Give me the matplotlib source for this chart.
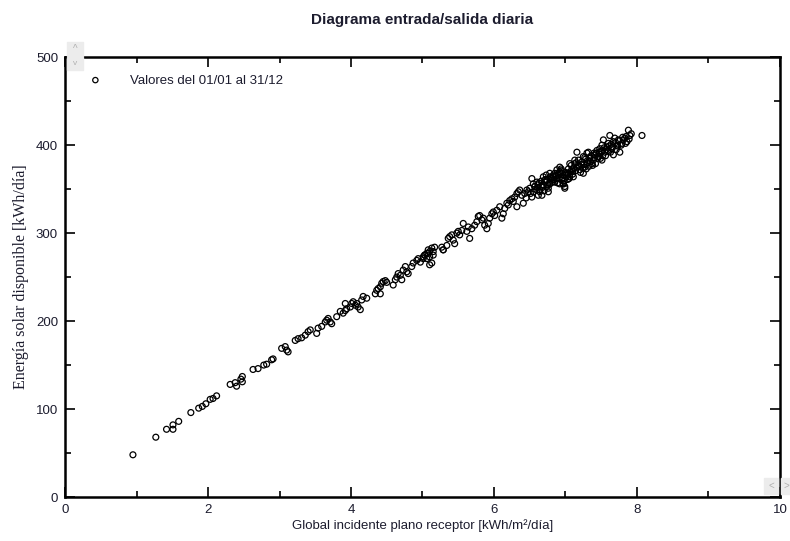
import numpy as np
import matplotlib.pyplot as plt
from matplotlib.patches import Rectangle

plt.rcParams['font.family'] = ['Liberation Sans', 'DejaVu Sans']

# daily points: global incident irradiation vs available solar energy
gi_low = [0.95, 1.27, 1.42, 1.51, 1.51, 1.59, 1.76, 1.87, 1.92, 1.97, 2.03, 2.07, 2.12,
          2.31, 2.38, 2.40, 2.46, 2.48, 2.48, 2.63, 2.70, 2.78, 2.82, 2.89, 2.91,
          3.03, 3.08, 3.10, 3.12, 3.22, 3.26, 3.31, 3.36, 3.40, 3.43, 3.52, 3.54,
          3.59, 3.64, 3.66, 3.68, 3.71, 3.73, 3.80, 3.85, 3.89, 3.92, 3.94, 3.99,
          4.01, 4.03, 4.06, 4.08, 4.10, 4.13, 4.15, 4.17, 4.22, 3.92, 4.34, 4.36,
          4.38, 4.41, 4.43, 4.45, 4.48, 4.50, 4.41, 4.59, 4.62, 4.64, 4.66, 4.69,
          4.71, 4.73, 4.76, 4.78, 4.80, 4.85, 4.87, 4.92, 4.94, 4.97, 5.01, 5.03,
          5.06, 5.08, 5.10, 5.13, 5.15, 5.29]
en_low = [48, 68, 77, 77, 82, 86, 96, 101, 103, 106, 111, 112, 115,
          128, 130, 126, 134, 131, 137, 145, 146, 150, 151, 156, 157,
          169, 171, 167, 165, 178, 180, 181, 184, 188, 190, 186, 192,
          194, 199, 201, 203, 199, 197, 205, 211, 209, 212, 214, 216,
          220, 222, 218, 220, 216, 213, 224, 228, 226, 220, 231, 235,
          237, 239, 243, 245, 246, 244, 231, 241, 247, 250, 254, 252,
          247, 258, 262, 256, 254, 262, 266, 269, 271, 267, 273, 275,
          271, 277, 279, 266, 275, 281]

gi_mid = [5.01, 5.03, 5.06, 5.08, 5.10, 5.13, 5.15, 5.17, 5.10, 5.27, 5.29, 5.34,
          5.36, 5.38, 5.41, 5.43, 5.45, 5.48, 5.50, 5.52, 5.55, 5.57, 5.66, 5.62,
          5.64, 5.69, 5.73, 5.76, 5.78, 5.80, 5.83, 5.85, 5.87, 5.90, 5.92, 5.94,
          5.97, 5.99, 6.01, 6.04, 6.08, 6.11, 6.13, 6.15, 6.18, 6.20, 6.22, 6.25,
          6.27, 6.29, 6.32, 6.34, 6.36, 6.39, 6.41, 6.32, 6.43, 6.46, 6.48, 6.50,
          6.53, 6.55, 6.57, 6.60, 6.62, 6.64, 6.67, 6.69, 6.71, 6.74, 6.76, 6.78,
          6.81, 6.83, 6.85, 6.88, 6.90, 6.92, 6.95, 6.97, 6.99, 7.01, 7.04]
en_mid = [271, 275, 277, 281, 264, 283, 279, 284, 273, 284, 281, 286,
          294, 296, 298, 292, 288, 300, 302, 298, 303, 311, 294, 302,
          307, 305, 309, 313, 319, 320, 315, 317, 309, 305, 311, 317,
          322, 324, 320, 326, 330, 317, 322, 328, 334, 332, 337, 339,
          336, 341, 345, 347, 349, 343, 334, 330, 345, 349, 347, 351,
          362, 356, 353, 349, 343, 347, 353, 355, 358, 360, 351, 356,
          360, 364, 368, 362, 366, 370, 360, 356, 353, 364, 368]

gi_high = [6.53, 6.55, 6.57, 6.60, 6.62, 6.64, 6.67, 6.69, 6.71, 6.74, 6.76, 6.78,
           6.81, 6.83, 6.85, 6.88, 6.90, 6.92, 6.95, 6.97, 6.99, 7.02, 7.04, 7.06,
           7.09, 7.11, 7.13, 7.16, 7.18, 7.20, 7.23, 7.25, 7.27, 7.30, 7.32, 7.34,
           7.37, 7.39, 7.41, 7.44, 7.46, 7.48, 7.51, 7.53, 7.55, 7.58, 7.60, 7.62,
           7.65, 7.67, 7.69, 7.72, 7.74, 7.76, 7.79, 7.81, 7.83, 7.86, 7.88, 7.90,
           8.07, 7.67, 7.51, 7.25, 7.06, 6.92, 6.78,
           6.86, 6.94, 7.00, 7.08, 7.12, 7.15, 7.22, 7.28, 7.31, 7.36, 7.40, 7.43,
           7.47, 7.50, 7.54, 7.57, 7.61, 7.64, 7.70, 7.75, 7.80, 7.85, 7.92, 7.03,
           7.10, 7.19, 7.24, 7.33, 7.38, 7.45, 7.52, 7.59, 7.66, 7.73, 6.89, 6.96,
           6.58, 6.63, 6.68, 6.72, 6.75, 6.79, 6.82, 6.87, 6.91, 6.93, 6.98, 7.00,
           7.05, 7.07, 7.10, 7.14, 7.17, 7.21, 7.26, 7.29, 7.35, 7.42, 7.49, 7.56,
           7.63, 7.71, 7.78, 7.84, 7.89, 6.70, 6.84, 7.03, 7.18, 7.33, 7.47, 7.60,
           6.45, 6.51, 6.61, 6.66, 6.73, 6.80, 6.94, 7.13, 7.27, 7.40]
en_high = [341, 347, 353, 358, 355, 349, 343, 364, 360, 353, 347, 356,
           362, 366, 358, 372, 368, 375, 362, 356, 351, 368, 373, 379,
           372, 364, 383, 392, 377, 372, 381, 387, 375, 391, 392, 385,
           379, 383, 389, 394, 387, 396, 400, 406, 392, 398, 402, 411,
           396, 404, 408, 400, 406, 392, 402, 406, 408, 404, 417, 411,
           411, 389, 383, 368, 364, 356, 368,
           365, 371, 369, 377, 374, 380, 378, 384, 380, 388, 386, 391,
           390, 393, 397, 395, 399, 401, 403, 405, 409, 410, 413, 361,
           370, 376, 374, 382, 377, 385, 388, 394, 398, 399, 357, 363,
           350, 357, 352, 361, 355, 364, 358, 365, 362, 368, 359, 366,
           362, 370, 367, 371, 375, 369, 378, 373, 381, 379, 385, 388,
           392, 395, 400, 402, 407, 348, 361, 366, 383, 376, 392, 393,
           340, 345, 352, 359, 366, 362, 373, 379, 386, 391]

gi = gi_low + gi_mid + gi_high
en = en_low + en_mid + en_high

txt = '#1c1c2e'

fig = plt.figure(figsize=(7.9, 5.41), dpi=100)
ax = fig.add_axes([0.0823, 0.0813, 0.905, 0.813])

ax.scatter(gi, en, s=18, facecolors='none', edgecolors='black', linewidths=0.9,
           label='Valores del 01/01 al 31/12', zorder=3)

ax.set_xlim(0, 10)
ax.set_ylim(0, 500)
ax.set_xticks([0, 2, 4, 6, 8, 10])
ax.set_xticks(np.arange(1, 10, 2), minor=True)
ax.set_yticks(np.arange(0, 501, 100))
ax.set_yticks(np.arange(50, 500, 100), minor=True)
ax.tick_params(which='both', direction='in', top=True, right=True,
               labelsize=9.5, labelcolor=txt, width=1.2, pad=5)
ax.tick_params(which='major', length=7)
ax.tick_params(which='minor', length=4)
for s in ax.spines.values():
    s.set_linewidth(1.8)

ax.set_title('Diagrama entrada/salida diaria', fontsize=11, fontweight='bold',
             color=txt, pad=24)
ax.set_xlabel('Global incidente plano receptor [kWh/m²/día]', fontsize=9.5,
              color=txt, labelpad=2)
ax.set_ylabel('Energía solar disponible [kWh/día]', fontsize=11.5, color=txt,
              family=['Liberation Serif', 'DejaVu Serif'], labelpad=5)

leg = ax.legend(loc='upper left', frameon=False, fontsize=9.5, handletextpad=1.6,
                borderaxespad=0.9, markerscale=0.9)
for t in leg.get_texts():
    t.set_color(txt)

# little scroll buttons of the original window
fig.patches.append(Rectangle((67 / 790, 1 - 56 / 541), 16 / 790, 14 / 541,
                             transform=fig.transFigure, color='#ececec', zorder=5))
fig.patches.append(Rectangle((67 / 790, 1 - 70 / 541), 16 / 790, 13 / 541,
                             transform=fig.transFigure, color='#ececec', zorder=5))
fig.text(75 / 790, 1 - 49 / 541, '^', ha='center', va='center', fontsize=7,
         color='#b0b0b0', zorder=6)
fig.text(75 / 790, 1 - 64 / 541, 'v', ha='center', va='center', fontsize=6,
         color='#b0b0b0', zorder=6)
fig.patches.append(Rectangle((764 / 790, 1 - 494 / 541), 14 / 790, 16 / 541,
                             transform=fig.transFigure, color='#ececec', zorder=5))
fig.patches.append(Rectangle((781 / 790, 1 - 494 / 541), 9 / 790, 16 / 541,
                             transform=fig.transFigure, color='#ececec', zorder=5))
fig.text(771 / 790, 1 - 486 / 541, '<', ha='center', va='center', fontsize=7,
         color='#b0b0b0', zorder=6)
fig.text(786 / 790, 1 - 486 / 541, '>', ha='center', va='center', fontsize=7,
         color='#b0b0b0', zorder=6)

fig.savefig('out.png', dpi=100)
